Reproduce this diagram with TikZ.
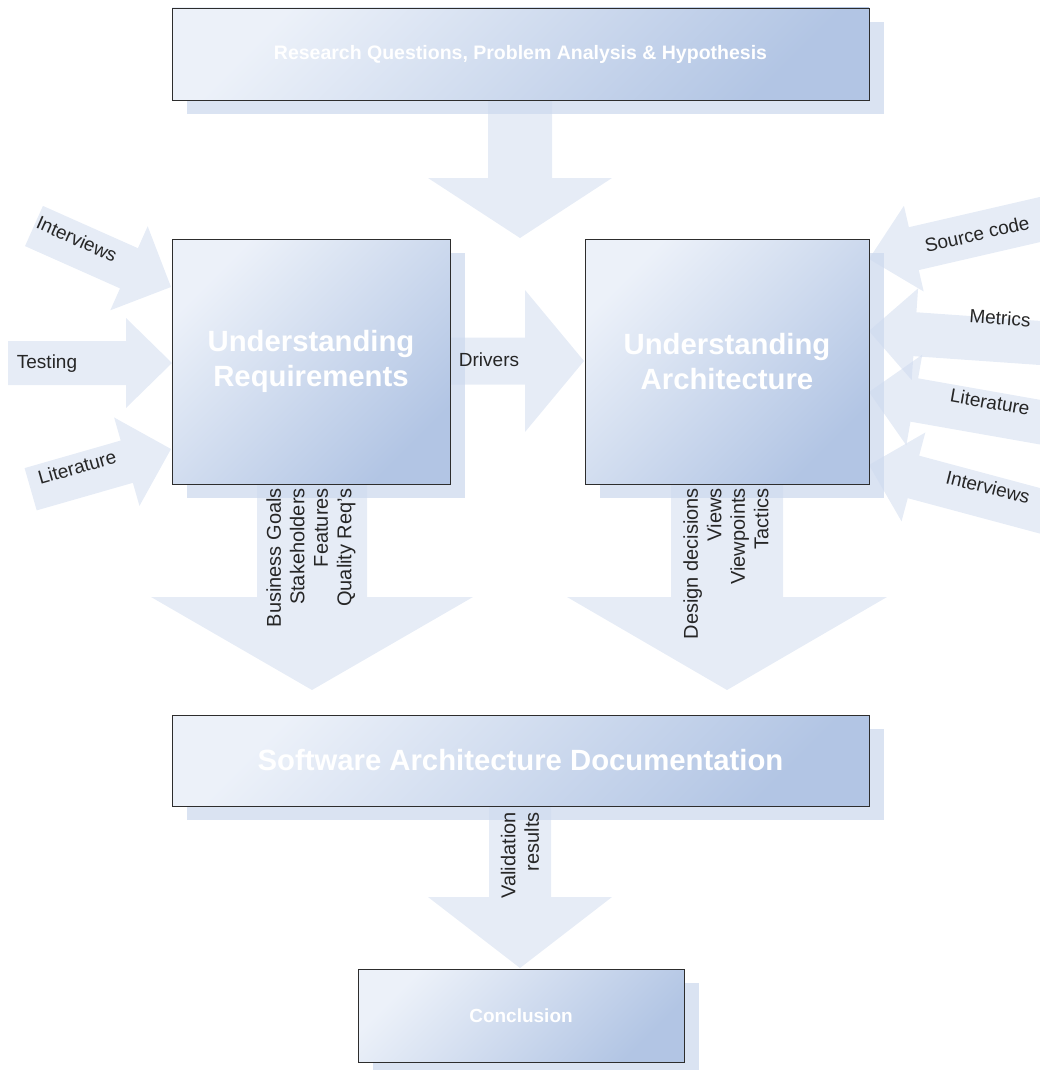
\documentclass[tikz,border=0pt]{standalone}
\usepackage{fontspec}
\setmainfont{Liberation Sans}
\usetikzlibrary{backgrounds}
\usetikzlibrary{shadows}

\definecolor{paleblue}{RGB}{205,217,238}
\definecolor{boxlight}{RGB}{236,241,249}
\definecolor{boxdark}{RGB}{178,197,228}
\definecolor{boxline}{RGB}{45,45,45}

% tip, angle, length, shaft half width, head half width, head length
\newcommand{\blockarrow}[6]{%
  \begin{scope}[shift={#1}, rotate=#2]
    \fill[flow] (0,0) -- (-#6,#5) -- (-#6,#4) -- (-#3,#4) -- (-#3,-#4) -- (-#6,-#4) -- (-#6,-#5) -- cycle;
  \end{scope}}

\begin{document}
\begin{tikzpicture}[x=1pt, y=-1pt,
  box/.style={draw=boxline, line width=0.9pt, top color=boxlight, bottom color=boxdark, shading angle=45,
    inner sep=0pt, text=white, align=center,
    drop shadow={shadow xshift=15pt, shadow yshift=-14pt, fill=paleblue, opacity=0.75}},
  flow/.style={fill=paleblue, fill opacity=0.5},
  lbl/.style={font=\fontsize{19}{23.5}\selectfont, text=black!85, inner sep=0pt},
  vlbl/.style={lbl, font=\fontsize{20}{23.5}\selectfont, rotate=90, align=right, anchor=east},
  big/.style={font=\fontsize{29.3}{35}\selectfont\bfseries}]
\useasboundingbox (0,0) rectangle (1039,1070);

% boxes
\node[box, minimum width=697pt, minimum height=92pt, font=\fontsize{19.5}{23}\selectfont\bfseries] (rq) at (520.5,54) {Research Questions, Problem Analysis \& Hypothesis};
\node[box, big, minimum width=278pt, minimum height=245pt] (ureq) at (311,361.5) {Understanding\\Requirements};
\node[box, big, minimum width=284pt, minimum height=245pt] (uarch) at (727,361.5) {Understanding\\Architecture};
\node[box, big, minimum width=697pt, minimum height=91pt] (sad) at (520.5,760.5) {Software Architecture Documentation};
\node[box, minimum width=326pt, minimum height=93pt, font=\fontsize{19}{23}\selectfont\bfseries] (concl) at (521,1015.5) {Conclusion};

% arrow tips
\coordinate (rqtip) at (520,238);
\coordinate (inInt) at (171,287);
\coordinate (inTest) at (172,363);
\coordinate (inLit) at (171,449);
\coordinate (inSrc) at (869,259);
\coordinate (inMet) at (869,331);
\coordinate (inLitR) at (869,392);
\coordinate (inIntR) at (869,465);
\coordinate (drvtip) at (584,361);
\coordinate (reqtip) at (312,690);
\coordinate (archtip) at (727,690);
\coordinate (sadtip) at (520,968);

\begin{scope}[on background layer]
\blockarrow{(rqtip)}{-90}{140}{32}{92}{60}
\blockarrow{(inInt)}{-24}{150}{22}{46}{46}
\blockarrow{(inTest)}{0}{164}{22}{45}{46}
\blockarrow{(inLit)}{16}{146}{22}{46}{46}
\blockarrow{(inSrc)}{193}{190}{22}{44}{46}
\blockarrow{(inMet)}{176}{185}{22}{46}{46}
\blockarrow{(inLitR)}{170}{185}{22}{46}{46}
\blockarrow{(inIntR)}{165}{185}{22}{46}{46}
\blockarrow{(drvtip)}{0}{134}{23.5}{71}{59}
\blockarrow{(reqtip)}{-90}{206}{55}{161}{93}
\blockarrow{(archtip)}{-90}{206}{56}{160}{93}
\blockarrow{(sadtip)}{-90}{162}{31}{92}{71}
\end{scope}

% labels
\node[lbl, rotate=-24] (tInt) at (77,239) {Interviews};
\node[lbl] (tTest) at (47,364) {Testing};
\node[lbl, rotate=16] (tLitL) at (77,467) {Literature};
\node[lbl, rotate=13] (tSrc) at (977,234) {Source code};
\node[lbl, rotate=-4] (tMet) at (1000,318) {Metrics};
\node[lbl, rotate=-10] (tLitR) at (990,402) {Literature};
\node[lbl, rotate=-14] (tIntR) at (988,487) {Interviews};
\node[lbl] (tDrv) at (489,360) {Drivers};
\node[vlbl] (tReq) at (311,488) {Business Goals\\Stakeholders\\Features\\Quality Req's};
\node[vlbl] (tArch) at (726,488) {Design decisions\\Views\\Viewpoints\\Tactics};
\node[vlbl] (tVal) at (520,812) {Validation\\results};
\end{tikzpicture}
\end{document}
